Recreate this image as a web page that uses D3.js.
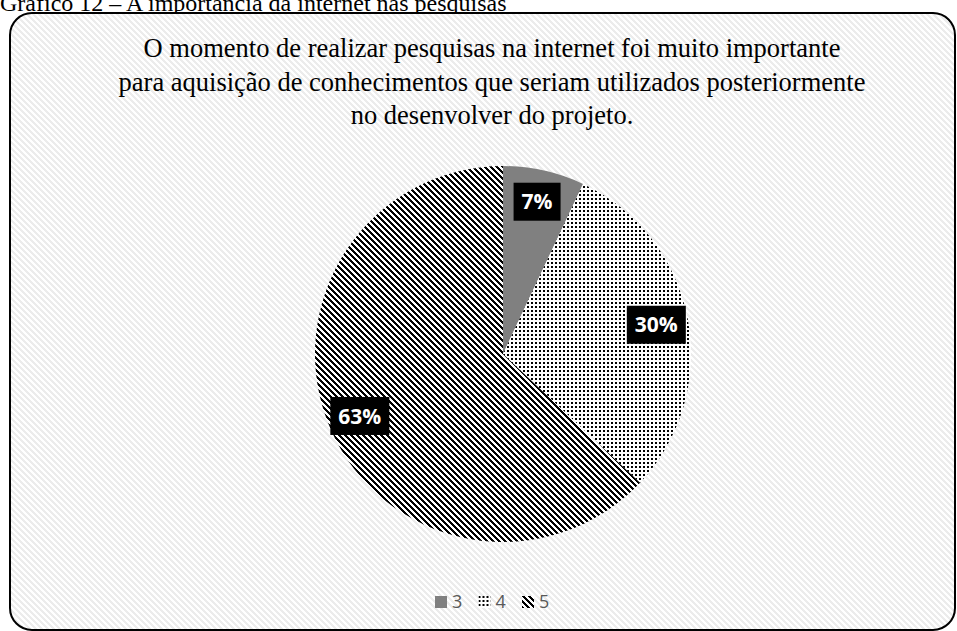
<!DOCTYPE html>
<html>
<head>
<meta charset="utf-8">
<script src="https://cdn.jsdelivr.net/npm/d3@7"></script>
<style>
  body { margin: 0; background: #fff; }
  svg { display: block; }
</style>
</head>
<body>
<div id="chart"></div>
<script>
const categories = ["3", "4", "5"];
const values = [7, 30, 63];
const titleLines = [
  "O momento de realizar pesquisas na internet foi muito importante",
  "para aquisição de conhecimentos que seriam utilizados posteriormente",
  "no desenvolver do projeto."
];

const W = 957, H = 631;
const svg = d3.select("#chart").append("svg")
  .attr("width", W)
  .attr("height", H);

const defs = svg.append("defs");

// diagonal "\" stripe tile built from whole pixels so it stays crisp
function stripeTile(id, s, h, ink, paper) {
  const p = defs.append("pattern")
    .attr("id", id)
    .attr("patternUnits", "userSpaceOnUse")
    .attr("width", s).attr("height", s);
  p.append("rect").attr("width", s).attr("height", s).attr("fill", paper);
  for (let y = 0; y < s; y++) {
    for (let k = 0; k < h; k++) {
      p.append("rect")
        .attr("x", (y + k) % s).attr("y", y)
        .attr("width", 1).attr("height", 1)
        .attr("fill", ink)
        .attr("shape-rendering", "crispEdges");
    }
  }
}

stripeTile("bg-stripes", 6, 3, "#ececec", "#fff");
stripeTile("stripes", 6, 3, "#000", "#fff");

// dotted pattern for "4"
const dotPat = defs.append("pattern")
  .attr("id", "dots")
  .attr("patternUnits", "userSpaceOnUse")
  .attr("width", 4).attr("height", 4);
dotPat.append("rect").attr("width", 4).attr("height", 4).attr("fill", "#fff");
dotPat.append("rect").attr("width", 2).attr("height", 2).attr("fill", "#000");

const fills = ["#808080", "url(#dots)", "url(#stripes)"];

// figure caption (cut off at top)
svg.append("text")
  .attr("x", 0)
  .attr("y", 11)
  .style("font-family", "Liberation Serif, Times New Roman, serif")
  .style("font-size", "24px")
  .text("Gráfico 12 – A importância da internet nas pesquisas");

// chart area frame
svg.append("rect")
  .attr("x", 10).attr("y", 13)
  .attr("width", 945).attr("height", 617)
  .attr("rx", 22).attr("ry", 22)
  .attr("fill", "url(#bg-stripes)")
  .attr("stroke", "#000")
  .attr("stroke-width", 2);

// title
svg.append("g").selectAll("text")
  .data(titleLines)
  .join("text")
  .attr("x", 492)
  .attr("y", (d, i) => 57 + i * 33.5)
  .attr("text-anchor", "middle")
  .style("font-family", "Liberation Serif, Times New Roman, serif")
  .style("font-size", "26.5px")
  .text(d => d);

// pie
const cx = 503, cy = 354, r = 188;
const pie = d3.pie().sort(null).value(d => d);
const arcs = pie(values);
const arc = d3.arc().innerRadius(0).outerRadius(r);
const labelArc = d3.arc().innerRadius(r * 0.83).outerRadius(r * 0.83);

const g = svg.append("g").attr("transform", `translate(${cx},${cy})`);

g.selectAll("path")
  .data(arcs)
  .join("path")
  .attr("d", arc)
  .attr("fill", (d, i) => fills[i]);

const labels = g.selectAll("g.lbl")
  .data(arcs)
  .join("g")
  .attr("class", "lbl")
  .attr("transform", d => `translate(${labelArc.centroid(d)})`);

labels.append("text")
  .attr("text-anchor", "middle")
  .attr("dy", "0.36em")
  .attr("fill", "#fff")
  .style("font-family", "Open Sans, Liberation Sans, sans-serif")
  .style("font-weight", "bold")
  .style("font-size", "21px")
  .text(d => d.data + "%");

labels.each(function () {
  const grp = d3.select(this);
  const bb = grp.select("text").node().getBBox();
  grp.insert("rect", "text")
    .attr("x", bb.x - 8)
    .attr("y", -19)
    .attr("width", bb.width + 16)
    .attr("height", 38)
    .attr("fill", "#000");
});

// legend
const legend = svg.append("g").attr("transform", "translate(435,596)");
const legItems = legend.selectAll("g")
  .data(categories)
  .join("g")
  .attr("transform", (d, i) => `translate(${i * 43.5},0)`);

legItems.append("rect")
  .attr("width", 12).attr("height", 12)
  .attr("fill", (d, i) => fills[i]);

legItems.append("text")
  .attr("x", 17)
  .attr("y", 12)
  .attr("fill", "#595959")
  .style("font-family", "Open Sans, Liberation Sans, sans-serif")
  .style("font-size", "18px")
  .text(d => d);
</script>
</body>
</html>
